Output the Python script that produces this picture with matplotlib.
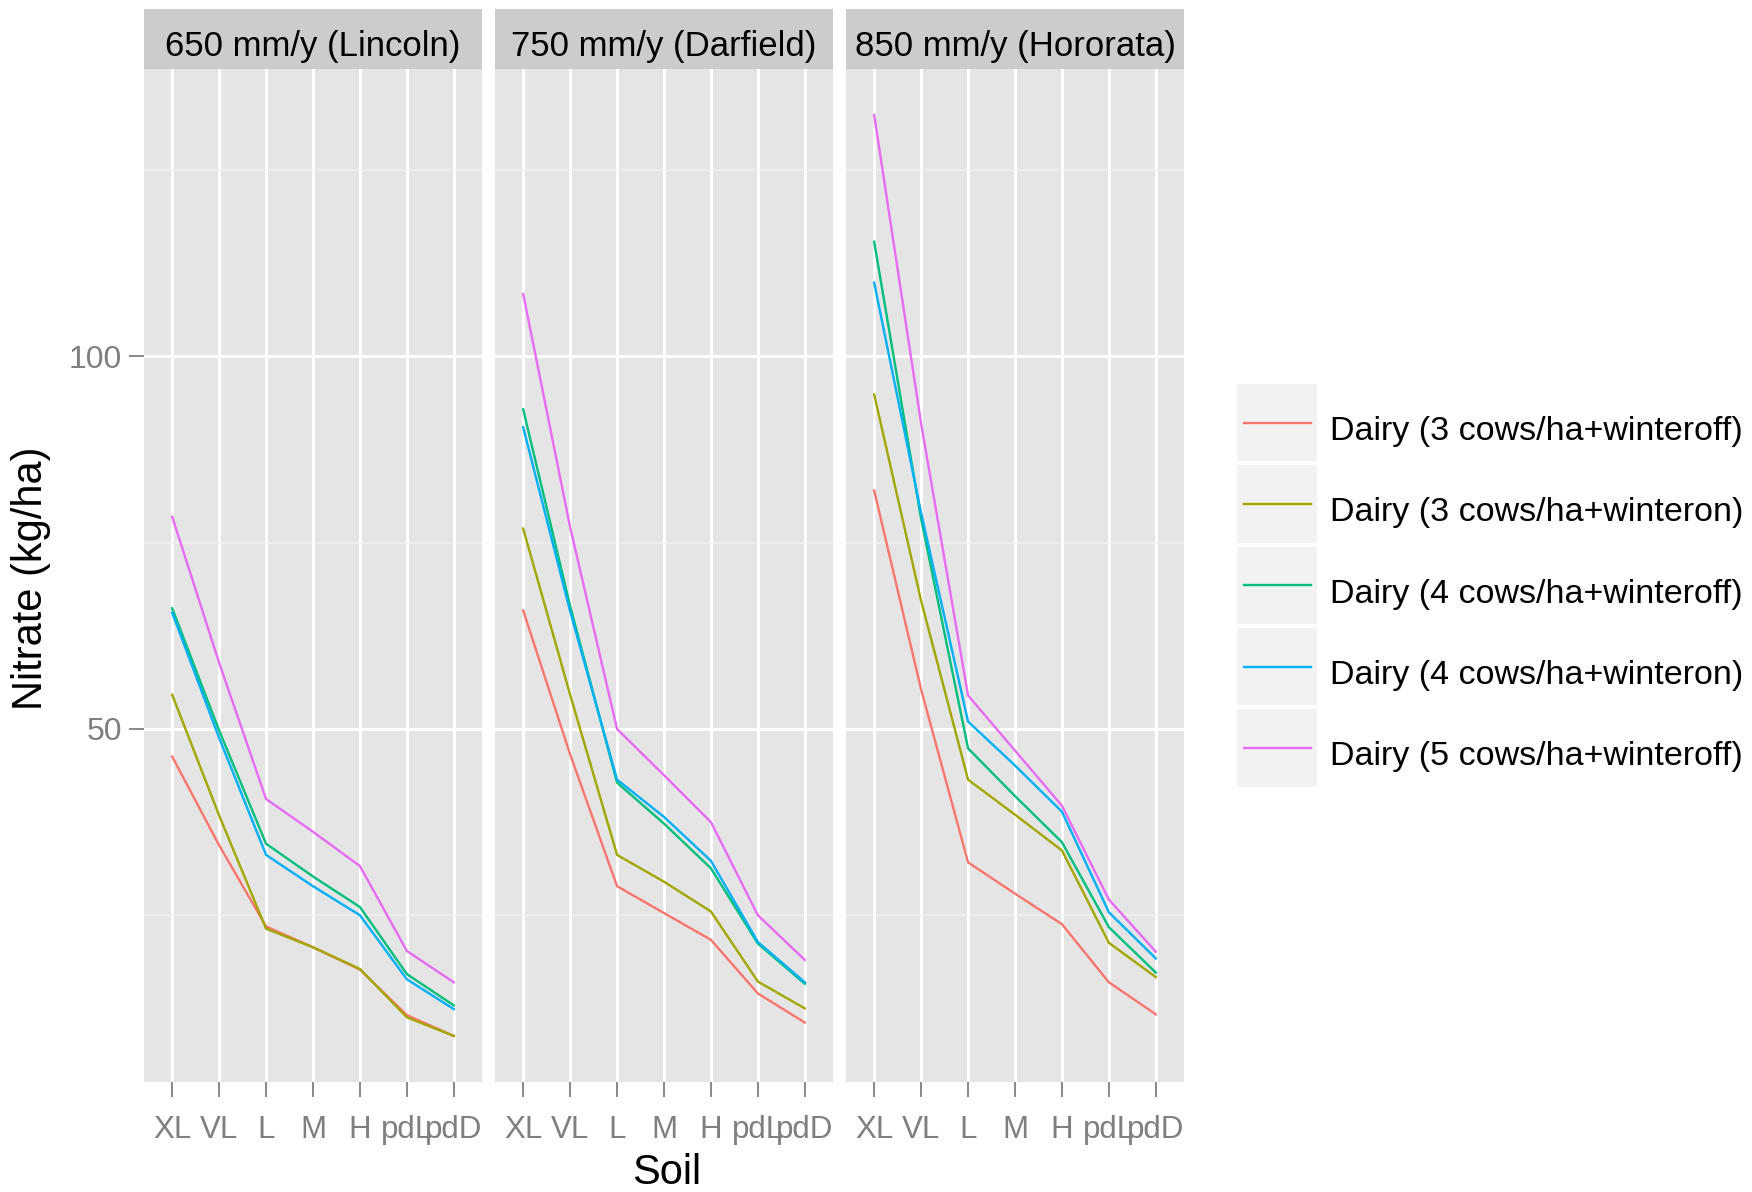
import numpy as np
import matplotlib as mpl
mpl.use('Agg')
import matplotlib.pyplot as plt
from matplotlib.patches import Rectangle
from matplotlib.lines import Line2D

plt.rcParams['font.family'] = ['Liberation Sans', 'DejaVu Sans']

soils = ['XL', 'VL', 'L', 'M', 'H', 'pdL', 'pdD']
sites = ['650 mm/y (Lincoln)', '750 mm/y (Darfield)', '850 mm/y (Hororata)']
systems = ['Dairy (3 cows/ha+winteroff)', 'Dairy (3 cows/ha+winteron)',
           'Dairy (4 cows/ha+winteroff)', 'Dairy (4 cows/ha+winteron)',
           'Dairy (5 cows/ha+winteroff)']
colors = ['#F8766D', '#A3A500', '#00BF7D', '#00B0F6', '#E76BF3']

# nitrate (kg/ha) per site, one row per system, one column per soil
lincoln = [
    [46.3, 34.4, 23.5, 20.7, 17.7, 11.6, 8.8],
    [54.6, 38.4, 23.2, 20.7, 17.8, 11.3, 8.8],
    [66.2, 49.8, 34.6, 30.2, 26.1, 17.1, 12.9],
    [65.6, 48.8, 33.1, 28.9, 25.0, 16.4, 12.4],
    [78.5, 58.9, 40.6, 36.2, 31.6, 20.2, 16.0],
]
darfield = [
    [65.9, 46.6, 28.9, 25.3, 21.7, 14.5, 10.6],
    [76.9, 54.6, 33.1, 29.5, 25.5, 16.1, 12.5],
    [92.9, 66.5, 42.8, 37.3, 31.3, 21.2, 15.8],
    [90.5, 65.8, 43.2, 38.2, 32.3, 21.4, 16.0],
    [108.4, 77.1, 50.0, 43.8, 37.5, 25.0, 19.0],
]
hororata = [
    [82.0, 55.3, 32.1, 27.9, 23.8, 16.0, 11.7],
    [94.9, 67.2, 43.2, 38.5, 33.7, 21.3, 16.7],
    [115.4, 78.2, 47.4, 41.0, 34.8, 23.4, 17.3],
    [109.9, 79.0, 51.0, 45.1, 38.9, 25.4, 19.2],
    [132.4, 91.0, 54.5, 47.1, 39.7, 27.1, 20.1],
]
site_data = [lincoln, darfield, hororata]

W, H = 1752, 1192
fig = plt.figure(figsize=(W / 100, H / 100), dpi=100)

allv = np.array(site_data).ravel()
rng = allv.max() - allv.min()
ylo, yhi = allv.min() - 0.05 * rng, allv.max() + 0.05 * rng

grey_txt = '#7F7F7F'
lefts = [144, 495, 846]
pw = 338
bot, top = 110, 1123
x = np.arange(1, len(soils) + 1)

for i, left in enumerate(lefts):
    ax = fig.add_axes([left / W, bot / H, pw / W, (top - bot) / H])
    ax.set_facecolor('#E5E5E5')
    for s in ax.spines.values():
        s.set_visible(False)
    ax.set_xlim(0.4, len(soils) + 0.6)
    ax.set_ylim(ylo, yhi)
    ax.set_yticks([50, 100])
    ax.set_yticks([25, 75, 125], minor=True)
    ax.set_xticks(x)
    ax.set_xticklabels(soils)
    ax.grid(True, which='major', color='white', lw=2.2)
    ax.grid(True, which='minor', axis='y', color='#F2F2F2', lw=1.1)
    ax.set_axisbelow(True)
    ax.tick_params(which='major', length=11, width=1.3, color=grey_txt,
                   labelcolor=grey_txt, labelsize=23)
    ax.tick_params(axis='x', pad=13, labelsize=22.5)
    ax.tick_params(axis='y', pad=5)
    ax.tick_params(which='minor', length=0)
    if i > 0:
        ax.tick_params(axis='y', labelleft=False, length=0)
    for k in range(len(systems)):
        ax.plot(x, site_data[i][k], color=colors[k], lw=1.7)

    sax = fig.add_axes([left / W, 1 - 69 / H, pw / W, 60 / H])
    sax.set_facecolor('#CCCCCC')
    sax.set_xticks([])
    sax.set_yticks([])
    for s in sax.spines.values():
        s.set_visible(False)
    sax.text(0.5, 0.37, sites[i], ha='center', va='center', fontsize=25,
             transform=sax.transAxes)

fig.text(667 / W, 1 - 1173 / H, 'Soil', ha='center', va='center', fontsize=30)
fig.text(31 / W, 1 - 578 / H, 'Nitrate (kg/ha)', ha='center', va='center',
         rotation=90, fontsize=30)

# legend
lax = fig.add_axes([0, 0, 1, 1], facecolor='none')
lax.set_xlim(0, W)
lax.set_ylim(H, 0)
lax.axis('off')
y0, step = 384, 81.3
for k, lab in enumerate(systems):
    yt = y0 + k * step
    lax.add_patch(Rectangle((1237, yt), 80, step - 4, facecolor='#F2F2F2',
                            edgecolor='none'))
    yc = yt + (step - 4) / 2
    lax.add_line(Line2D([1244, 1311], [yc, yc], color=colors[k], lw=1.7))
    lax.text(1330, yc + 9, lab, ha='left', va='center', fontsize=24.5)

plt.savefig('out.png', dpi=100)
